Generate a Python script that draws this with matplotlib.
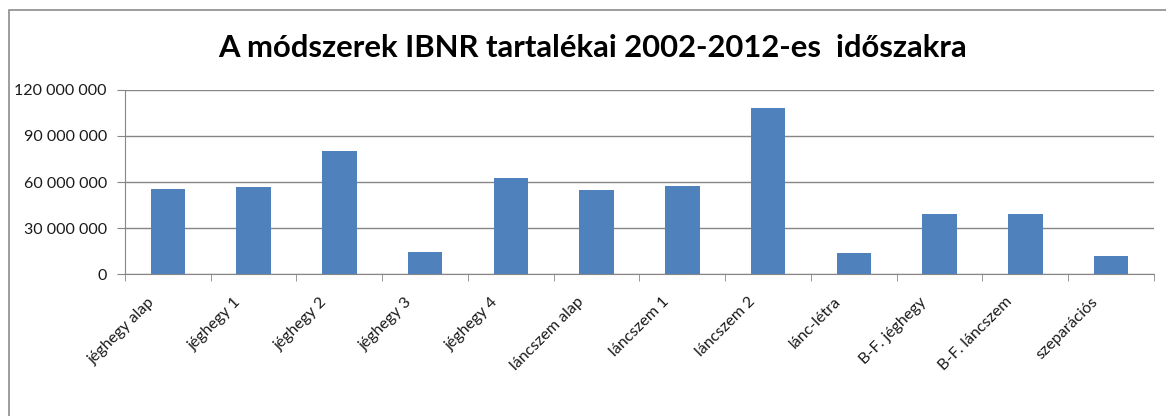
import matplotlib
matplotlib.use('Agg')
import matplotlib.pyplot as plt
import matplotlib.transforms as mtransforms
from matplotlib.patches import Rectangle
from matplotlib.ticker import FuncFormatter, FixedLocator

# adatok
modszerek = ['jéghegy alap', 'jéghegy 1', 'jéghegy 2', 'jéghegy 3', 'jéghegy 4',
             'láncszem alap', 'láncszem 1', 'láncszem 2', 'lánc-létra',
             'B-F. jéghegy', 'B-F. láncszem', 'szeparációs']
ibnr = [55200000, 57000000, 80200000, 14500000, 62400000, 54800000,
        57600000, 108100000, 13900000, 39100000, 39100000, 11900000]
y_ticks = [0, 30000000, 60000000, 90000000, 120000000]

plt.rcParams['font.family'] = ['Lato', 'DejaVu Sans']

fig = plt.figure(figsize=(11.66, 4.16), dpi=100)
ax = fig.add_axes([0.1072, 0.3413, 0.8825, 0.4424])

x = range(len(modszerek))
ax.bar(x, ibnr, width=0.4, color='#4f81bd', zorder=3)

ax.set_xlim(-0.5, len(modszerek) - 0.5)
ax.set_ylim(0, 120000000)
ax.set_yticks(y_ticks)
ax.yaxis.set_major_formatter(FuncFormatter(lambda v, p: f'{int(v):,}'.replace(',', ' ')))
ax.grid(axis='y', color='#868686', linewidth=1, zorder=0)

ax.set_xticks(list(x))
ax.set_xticklabels(modszerek, rotation=45, ha='right', rotation_mode='anchor')
ax.xaxis.set_minor_locator(FixedLocator([i - 0.5 for i in range(len(modszerek) + 1)]))
ax.tick_params(axis='x', which='major', length=0, pad=15, labelsize=11.5, labelcolor='#1a1a1a')
ax.tick_params(axis='x', which='minor', length=5, color='#868686', direction='out')
ax.tick_params(axis='y', length=6, color='#868686', labelsize=11.5, labelcolor='#1a1a1a', pad=7)

# címkék eltolása balra, mint az eredetin
shift = mtransforms.ScaledTranslation(-20 / 100, 0, fig.dpi_scale_trans)
for lbl in ax.get_xticklabels():
    lbl.set_transform(lbl.get_transform() + shift)

for s in ['top', 'right']:
    ax.spines[s].set_visible(False)
ax.spines['left'].set_color('#868686')
ax.spines['bottom'].set_color('#868686')

fig.text(0.5086, 0.885, 'A módszerek IBNR tartalékai 2002-2012-es  időszakra',
         ha='center', va='center', fontsize=22.3, fontweight='bold', color='#000000')

# keret
fig.patches.append(Rectangle((9 / 1166, -0.05), 1.1, 1 - 10 / 416 + 0.05, transform=fig.transFigure,
                             fill=False, edgecolor='#8c8c8c', linewidth=1.2))

fig.savefig('out.png', dpi=100)
